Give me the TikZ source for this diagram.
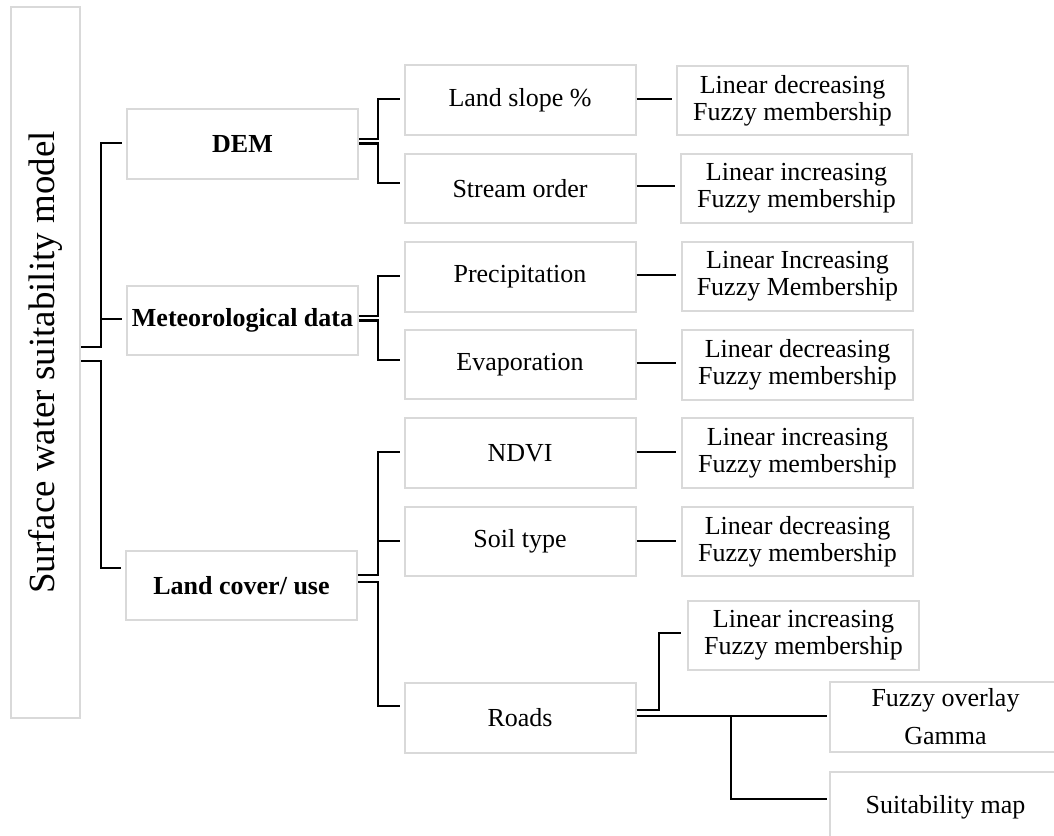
\documentclass[tikz,border=0pt]{standalone}
\usepackage{fontspec}
\setmainfont{Liberation Serif}
\usepackage{graphicx}
\definecolor{boxgray}{RGB}{217,217,217}
\begin{document}
\begin{tikzpicture}[x=0.75pt,y=-0.75pt,
  box/.style={draw=boxgray, line width=1.5pt, rectangle, inner sep=0pt, align=center,
    minimum width=173.25pt, minimum height=52pt, font=\fontsize{19.5}{20.25}\selectfont},
  mainbox/.style={box, font=\fontsize{19.5}{20.25}\selectfont\bfseries},
  conn/.style={draw=black, line width=1.8pt}]
\useasboundingbox (0,0) rectangle (1054,836);
\clip (0,0) rectangle (1054,836);
% root
\node[box, minimum width=51.75pt, minimum height=533.25pt] (root) at (45.5,362.5)
  {\fontsize{27.7}{30}\selectfont\rotatebox{90}{Surface water suitability model}};
% level 1
\node[mainbox] (dem)  at (242.5,144)   {DEM};
\node[mainbox] (met)  at (242.5,320.5) {Meteorological data};
\node[mainbox] (land) at (241.5,585.5) {Land cover/ use};
% level 2
\node[box] (slope)  at (520,100)   {Land slope \%};
\node[box] (stream) at (520,188.5) {Stream order};
\node[box] (precip) at (520,277)   {Precipitation};
\node[box] (evap)   at (520,364.5) {Evaporation};
\node[box] (ndvi)   at (520,453)   {NDVI};
\node[box] (soil)   at (520,541.5) {Soil type};
\node[box] (roads)  at (520,718)   {Roads};
% level 3
\node[box] (f1) at (792.5,100.5) {Linear decreasing\\Fuzzy membership};
\node[box] (f2) at (796.5,188.5) {Linear increasing\\Fuzzy membership};
\node[box] (f3) at (797.5,276.5) {Linear Increasing\\Fuzzy Membership};
\node[box] (f4) at (797.5,365)   {Linear decreasing\\Fuzzy membership};
\node[box] (f5) at (797.5,453)   {Linear increasing\\Fuzzy membership};
\node[box] (f6) at (797.5,541.5) {Linear decreasing\\Fuzzy membership};
\node[box] (f7) at (803.5,635.5) {Linear increasing\\Fuzzy membership};
\node[box] (overlay) at (945.5,717) {Fuzzy overlay\\[8.25pt]Gamma};
\node[box] (suit)    at (945.5,807) {Suitability map};
% root bracket
\draw[conn] (root.east |- 0,347) -- (101,347) |- ([xshift=-3pt]dem.west |- 0,143);
\draw[conn] (root.east |- 0,361) -- (101,361) |- ([xshift=-3pt]land.west |- 0,568);
\draw[conn] (101,319) -- ([xshift=-3pt]met.west |- 0,319);
% DEM bracket
\draw[conn] (dem.east |- 0,139) -- (378,139) |- ([xshift=-3pt]slope.west |- 0,99);
\draw[conn] (dem.east |- 0,143.5) -- (378,143.5) |- ([xshift=-3pt]stream.west |- 0,183);
% Met bracket
\draw[conn] (met.east |- 0,316) -- (378,316) |- ([xshift=-3pt]precip.west |- 0,276);
\draw[conn] (met.east |- 0,320.5) -- (378,320.5) |- ([xshift=-3pt]evap.west |- 0,360);
% Land bracket
\draw[conn] (land.east |- 0,575) -- (378,575) |- ([xshift=-3pt]ndvi.west |- 0,452);
\draw[conn] (land.east |- 0,582) -- (378,582) |- ([xshift=-3pt]roads.west |- 0,706);
\draw[conn] (378,541) -- ([xshift=-3pt]soil.west |- 0,541);
% level 2 -> level 3
\draw[conn] (slope.east |- 0,99)   -- ([xshift=-3pt]f1.west |- 0,99);
\draw[conn] (stream.east |- 0,186) -- ([xshift=-3.5pt]f2.west |- 0,186);
\draw[conn] (precip.east |- 0,275) -- ([xshift=-3.5pt]f3.west |- 0,275);
\draw[conn] (evap.east |- 0,363)   -- ([xshift=-3.5pt]f4.west |- 0,363);
\draw[conn] (ndvi.east |- 0,452)   -- ([xshift=-3.5pt]f5.west |- 0,452);
\draw[conn] (soil.east |- 0,541)   -- ([xshift=-3.5pt]f6.west |- 0,541);
% roads
\draw[conn] (roads.east |- 0,710) -- (659,710) |- ([xshift=-4.5pt]f7.west |- 0,633);
\draw[conn] (roads.east |- 0,716) -- ([xshift=-1.5pt]overlay.west |- 0,716);
\draw[conn] (731,716) |- ([xshift=-1.5pt]suit.west |- 0,799);
\end{tikzpicture}
\end{document}
